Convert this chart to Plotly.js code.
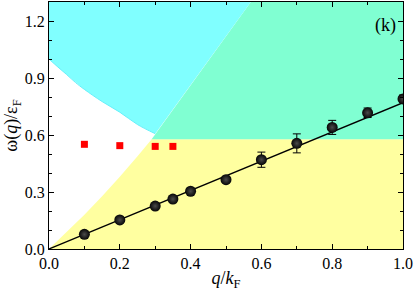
<!DOCTYPE html>
<html>
<head>
<meta charset="utf-8">
<script src="https://cdn.plot.ly/plotly-3.0.1.min.js"></script>
<style>html,body{margin:0;padding:0;background:#fff;}#chart{width:415px;height:292px;}</style>
</head>
<body>
<div id="chart"></div>
<script>
// measured points (black spheres)
var qData = [0.1, 0.2, 0.3, 0.35, 0.4, 0.5, 0.6, 0.7, 0.8, 0.9, 1.0];
var wData = [0.077, 0.153, 0.226, 0.263, 0.304, 0.365, 0.47, 0.556, 0.64, 0.717, 0.79];
var wErr  = [0.0, 0.0, 0.0, 0.0, 0.0, 0.0, 0.04, 0.05, 0.037, 0.025, 0.02];
// red squares
var qRed = [0.1, 0.2, 0.3, 0.35];
var wRed = [0.551, 0.544, 0.54, 0.54];
// linear fit
var qFit = [0, 1];
var wFit = [0, 0.77];
// yellow region lower-left edge
var yelQ = [0, 0.05, 0.1, 0.15, 0.2, 0.25, 0.29];
var yelW = [0, 0.088, 0.18, 0.278, 0.38, 0.488, 0.577];
var yelTop = 0.577;
// cyan region lower edge
var cyaQ = [0, 0.025, 0.05, 0.075, 0.1, 0.15, 0.2, 0.25, 0.3];
var cyaW = [1.0, 0.958, 0.918, 0.876, 0.84, 0.776, 0.72, 0.655, 0.607];
// cyan / green separating line
var sepQ = [0.29, 0.57];
var sepW = [0.577, 1.3];
var yMax = 1.3;

var yellowX = yelQ.concat([1, 1]);
var yellowY = yelW.concat([yelTop, 0]);
var greenX = sepQ.concat([1, 1]);
var greenY = sepW.concat([yMax, yelTop]);
var cyanX = [0].concat(cyaQ, [sepQ[1]]);
var cyanY = [yMax].concat(cyaW, [sepW[1]]);

var serif = 'Liberation Serif';

var traces = [
  {x: yellowX, y: yellowY, fill: 'toself', fillcolor: 'rgb(255,255,160)', mode: 'lines', line: {width: 0}, hoverinfo: 'skip', showlegend: false},
  {x: greenX, y: greenY, fill: 'toself', fillcolor: 'rgb(128,255,210)', mode: 'lines', line: {width: 0}, hoverinfo: 'skip', showlegend: false},
  {x: cyanX, y: cyanY, fill: 'toself', fillcolor: 'rgb(128,255,255)', mode: 'lines', line: {width: 0}, hoverinfo: 'skip', showlegend: false},
  {x: cyaQ, y: cyaW, mode: 'lines', line: {width: 1, color: 'rgb(100,240,250)', shape: 'spline'}, hoverinfo: 'skip', showlegend: false},
  {x: qFit, y: wFit, mode: 'lines', line: {width: 1.3, color: 'black'}, showlegend: false},
  {x: qRed, y: wRed, mode: 'markers', marker: {symbol: 'square', size: 7, color: 'rgb(255,0,0)'}, showlegend: false},
  {x: qData, y: wData, mode: 'markers',
   error_y: {type: 'data', array: wErr, visible: true, color: 'black', thickness: 1, width: 4},
   marker: {size: 11, color: 'rgb(5,5,5)', gradient: {type: 'radial', color: 'rgb(75,75,75)'}, line: {width: 0}},
   showlegend: false}
];

var layout = {
  width: 415, height: 292,
  margin: {l: 49, r: 12, t: 2, b: 43},
  paper_bgcolor: 'white', plot_bgcolor: 'white',
  font: {family: serif, size: 16, color: 'black'},
  xaxis: {
    showline: true, linecolor: 'black', linewidth: 1, mirror: 'ticks',
    ticks: 'inside', ticklen: 5, tickwidth: 1, tickcolor: 'black',
    showgrid: false, zeroline: false,
    tickfont: {family: serif, size: 16, color: 'black'},
    range: [0, 1], tickvals: [0, 0.2, 0.4, 0.6, 0.8, 1.0], ticktext: ['0.0','0.2','0.4','0.6','0.8','1.0'],
    minor: {dtick: 0.1, ticks: 'inside', ticklen: 3, tickcolor: 'black'},
    title: {text: '<i>q</i>/<i>k</i><sub>F</sub>', font: {family: serif, size: 18, color: 'black'}, standoff: 0}
  },
  yaxis: {
    showline: true, linecolor: 'black', linewidth: 1, mirror: 'ticks',
    ticks: 'inside', ticklen: 5, tickwidth: 1, tickcolor: 'black',
    showgrid: false, zeroline: false,
    tickfont: {family: serif, size: 16, color: 'black'},
    range: [0, yMax], tickvals: [0, 0.3, 0.6, 0.9, 1.2], ticktext: ['0.0','0.3','0.6','0.9','1.2'],
    minor: {dtick: 0.1, ticks: 'inside', ticklen: 3, tickcolor: 'black'},
    title: {text: 'ω(<i>q</i>)/ε<sub>F</sub>', font: {family: serif, size: 18, color: 'black'}, standoff: 2}
  },
  annotations: [{
    text: '(k)', xref: 'paper', yref: 'paper', x: 0.95, y: 0.905, xanchor: 'center', yanchor: 'middle',
    showarrow: false, font: {family: serif, size: 18, color: 'black'}
  }]
};

Plotly.newPlot('chart', traces, layout, {displayModeBar: false, staticPlot: true});
</script>
</body>
</html>
